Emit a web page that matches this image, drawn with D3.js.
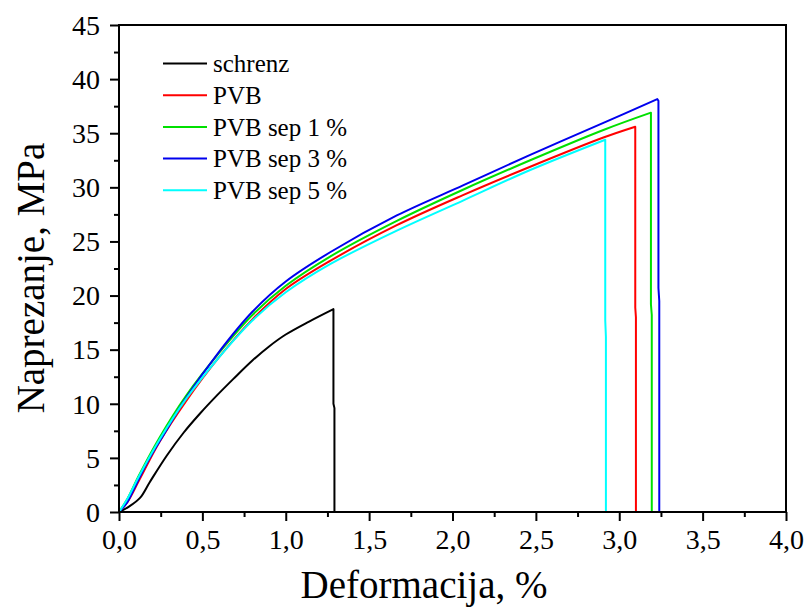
<!DOCTYPE html>
<html>
<head>
<meta charset="utf-8">
<script src="https://cdn.jsdelivr.net/npm/d3@7"></script>
<style>
  body { margin: 0; background: #fff; }
  svg { display: block; }
  text { font-family: "Liberation Serif", "Times New Roman", serif; fill: #000; }
</style>
</head>
<body>
<svg id="chart" width="805" height="610"></svg>
<script>
// ---- data ----
const seriesNames = ["schrenz", "PVB", "PVB sep 1 %", "PVB sep 3 %", "PVB sep 5 %"];
const seriesColors = ["#000000", "#ff0000", "#00e000", "#0000ee", "#00ffff"];

// rising part (strain %, stress MPa) ending at the break point
const schrenzRise = [[0,0],[0.06,0.5],[0.126,1.3],[0.186,2.8],[0.286,5.2],[0.386,7.3],[0.486,9.1],[0.586,10.75],[0.686,12.3],[0.8,14.0],[0.9,15.3],[1.0,16.4],[1.14,17.6],[1.286,18.75]];
const pvbRise = [[0,0],[0.05,0.9],[0.12,2.9],[0.24,6.4],[0.4,10.2],[0.6,14.3],[0.8,17.8],[1.0,20.6],[1.266,23.2],[1.666,26.5],[2.066,29.3],[2.466,31.9],[2.905,34.6],[3.096,35.6]];
const pvbSep1Rise = [[0,0],[0.05,1.2],[0.12,3.4],[0.24,6.8],[0.4,10.7],[0.6,14.7],[0.8,18.2],[1.0,20.9],[1.266,23.6],[1.666,26.9],[2.066,29.8],[2.466,32.5],[2.905,35.3],[3.19,36.9]];
const pvbSep3Rise = [[0,0],[0.05,0.9],[0.086,2.0],[0.17,4.6],[0.286,7.6],[0.4,10.5],[0.6,14.8],[0.8,18.5],[1.0,21.3],[1.266,24.0],[1.666,27.4],[2.066,30.2],[2.466,33.0],[2.905,35.95],[3.228,38.15]];
const pvbSep5Rise = [[0,0],[0.05,1.2],[0.12,3.3],[0.24,6.6],[0.4,10.4],[0.6,14.3],[0.8,17.7],[1.0,20.3],[1.266,22.9],[1.666,26.0],[2.066,28.8],[2.466,31.6],[2.916,34.4]];
// drop after break (strain %, stress MPa)
const schrenzDrop = [[1.286,18.75],[1.286,10],[1.292,9.6],[1.292,0]];
const pvbDrop = [[3.096,35.6],[3.096,18.9],[3.1,18.0],[3.1,0]];
const pvbSep1Drop = [[3.19,36.9],[3.19,19.2],[3.195,18.2],[3.195,0]];
const pvbSep3Drop = [[3.228,38.15],[3.235,38.0],[3.235,20.7],[3.24,19.5],[3.24,0]];
const pvbSep5Drop = [[2.916,34.4],[2.916,17.7],[2.92,16.2],[2.92,0]];

const rises = [schrenzRise, pvbRise, pvbSep1Rise, pvbSep3Rise, pvbSep5Rise];
const drops = [schrenzDrop, pvbDrop, pvbSep1Drop, pvbSep3Drop, pvbSep5Drop];

const xTicks = [0, 0.5, 1.0, 1.5, 2.0, 2.5, 3.0, 3.5, 4.0];
const xTickLabels = ["0,0","0,5","1,0","1,5","2,0","2,5","3,0","3,5","4,0"];
const yTicks = [0,5,10,15,20,25,30,35,40,45];
const yTickLabels = ["0","5","10","15","20","25","30","35","40","45"];
const xTitle = "Deformacija, %";
const yTitle = "Naprezanje, MPa";

// ---- layout ----
const FONT = '"Liberation Serif", "Times New Roman", serif';
const svg = d3.select("#chart");
const L = 119, R = 786, T = 25, B = 512;
const x = d3.scaleLinear().domain([0, 4]).range([L, R]);
const y = d3.scaleLinear().domain([0, 45]).range([B, T]);

// curves
const smooth = d3.line().x(d => x(d[0])).y(d => y(d[1])).curve(d3.curveCatmullRom.alpha(0.5));
const straight = d3.line().x(d => x(d[0])).y(d => y(d[1]));
const g = svg.append("g");
rises.forEach((s, i) => {
  g.append("path").attr("d", smooth(s) + straight(drops[i]).replace(/^M/, "L"))
    .attr("fill", "none").attr("stroke", seriesColors[i])
    .attr("stroke-width", 2).attr("stroke-linejoin", "round");
});

// axes
const xMinor = d3.range(0.25, 4, 0.5);
const yMinor = d3.range(2.5, 45, 5);

const xAxis = svg.append("g").attr("transform", `translate(0,${B})`)
  .call(d3.axisBottom(x).tickValues(xTicks).tickFormat((d, i) => xTickLabels[i]).tickSize(9).tickPadding(8));
const xAxisMinor = svg.append("g").attr("transform", `translate(0,${B})`)
  .call(d3.axisBottom(x).tickValues(xMinor).tickFormat("").tickSize(5));
const yAxis = svg.append("g").attr("transform", `translate(${L},0)`)
  .call(d3.axisLeft(y).tickValues(yTicks).tickFormat((d, i) => yTickLabels[i]).tickSize(9).tickPadding(10));
const yAxisMinor = svg.append("g").attr("transform", `translate(${L},0)`)
  .call(d3.axisLeft(y).tickValues(yMinor).tickFormat("").tickSize(5));

[xAxis, xAxisMinor, yAxis, yAxisMinor].forEach(a => {
  a.attr("font-family", null).attr("font-size", null);
  a.select(".domain").remove();
  a.selectAll("line").attr("stroke", "#000").attr("stroke-width", 2);
  a.selectAll("text").style("font-family", FONT).style("font-size", "28px").attr("fill", "#000");
});
yAxis.selectAll("text").attr("dy", "0.33em");

// frame
svg.append("rect").attr("x", L).attr("y", T).attr("width", R - L).attr("height", B - T)
  .attr("fill", "none").attr("stroke", "#000").attr("stroke-width", 2);

// titles
svg.append("text").attr("x", 424).attr("y", 598).attr("text-anchor", "middle")
  .style("font-family", FONT).attr("font-size", 39).text(xTitle);
svg.append("text").attr("transform", "translate(44,278) rotate(-90)").attr("text-anchor", "middle")
  .style("font-family", FONT).attr("font-size", 39).text(yTitle);

// legend
const lg = svg.append("g");
seriesNames.forEach((n, i) => {
  const ly = 63.5 + i * 31.7;
  lg.append("line").attr("x1", 163).attr("x2", 207).attr("y1", ly).attr("y2", ly)
    .attr("stroke", seriesColors[i]).attr("stroke-width", 2);
  lg.append("text").attr("x", 213).attr("y", ly + 8.7).style("font-family", FONT)
    .attr("font-size", 25).text(n);
});
</script>
</body>
</html>
